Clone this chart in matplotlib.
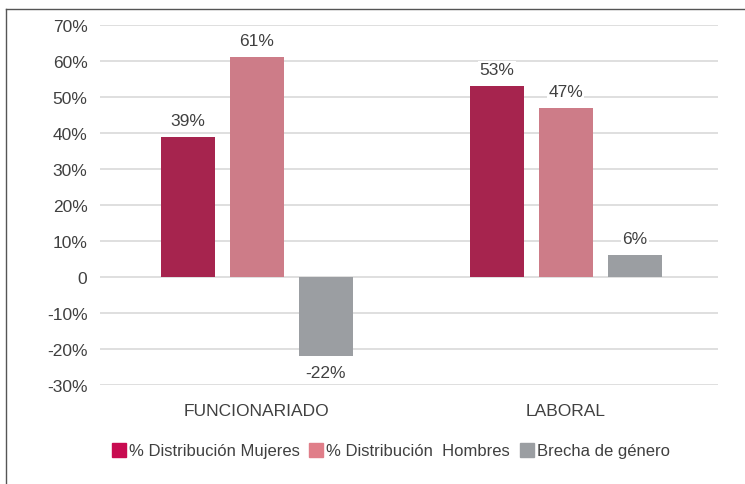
import numpy as np
import matplotlib.pyplot as plt
from matplotlib.lines import Line2D

plt.rcParams['font.family'] = ['Liberation Sans', 'DejaVu Sans']

# Datos
categorias = ['FUNCIONARIADO', 'LABORAL']
series = ['% Distribución Mujeres', '% Distribución  Hombres', 'Brecha de género']
mujeres = [39, 53]
hombres = [61, 47]
brecha = [-22, 6]
colores = ['#A6244E', '#CD7C88', '#9B9EA2']
colores_leyenda = ['#C80B50', '#E07E89', '#9B9EA2']
yticks = [-30, -20, -10, 0, 10, 20, 30, 40, 50, 60, 70]
ylabels = ['-30%', '-20%', '-10%', '0', '10%', '20%', '30%', '40%', '50%', '60%', '70%']

texto = '#404040'
fig = plt.figure(figsize=(7.45, 4.85), dpi=100)
ax = fig.add_axes([100/745, 1-386/485, 618/745, 360/485])

x = np.arange(len(categorias))
ancho = 0.175
paso = 0.223
for i, vals in enumerate([mujeres, hombres, brecha]):
    pos = x + (i - 1) * paso
    ax.bar(pos, vals, ancho, color=colores[i], zorder=3)
    for p, v in zip(pos, vals):
        dy = 4.6 if v >= 0 else -4.6
        ax.text(p, v + dy, f'{v}%', ha='center', va='center', fontsize=12.5,
                color=texto, zorder=4,
                bbox=dict(facecolor='white', edgecolor='none', pad=1))

ax.set_xlim(-0.507, 1.493)
ax.set_ylim(-30, 70)
ax.set_yticks(yticks)
ax.set_yticklabels(ylabels)
ax.set_xticks(x)
ax.set_xticklabels(categorias)
ax.tick_params(axis='y', length=0, pad=9, labelsize=12.5, labelcolor=texto)
ax.tick_params(axis='x', length=0, pad=13, labelsize=12.5, labelcolor=texto)
ax.grid(axis='y', color='#D9D9D9', linewidth=1.2, zorder=0)
for s in ax.spines.values():
    s.set_visible(False)

# Leyenda
handles = [Line2D([], [], marker='s', linestyle='none', markersize=10.5,
                  markerfacecolor=c, markeredgecolor=c) for c in colores_leyenda]
fig.legend(handles, series, loc='center', bbox_to_anchor=(391/745, 1-452/485),
           ncol=3, frameon=False, fontsize=12, handlelength=0.8,
           handletextpad=0.2, columnspacing=0.6, labelcolor=texto)

# Marco
fig.add_artist(Line2D([6/745, 6/745], [0, 1-10/485], color='#555555', linewidth=1))
fig.add_artist(Line2D([6/745, 1], [1-10/485, 1-10/485], color='#555555', linewidth=1))

fig.savefig('out.png', dpi=100)
